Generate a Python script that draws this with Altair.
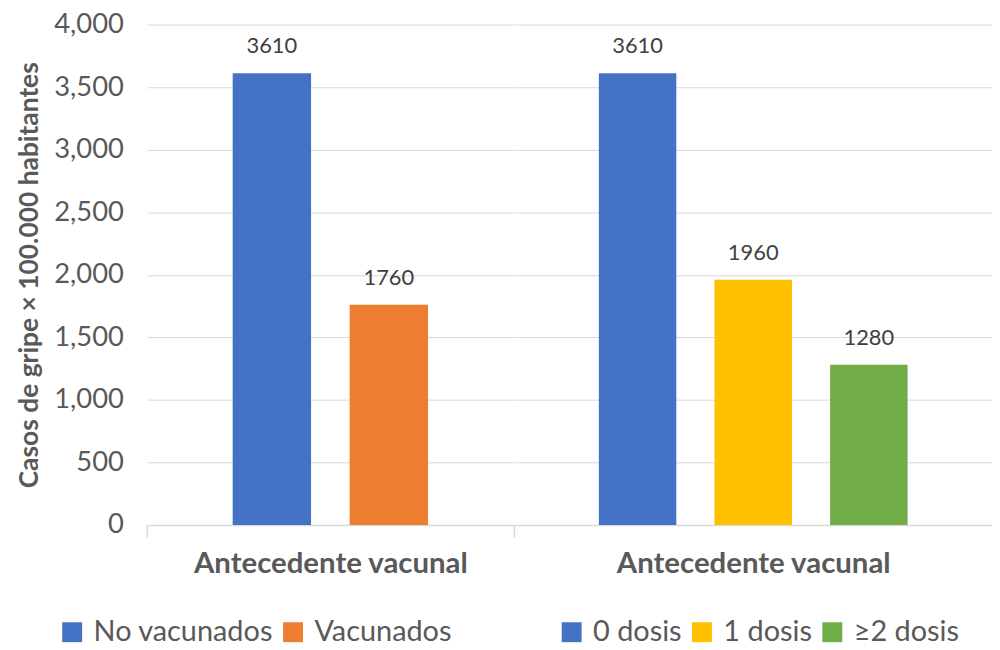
import altair as alt
import pandas as pd

# ---- data ----
g1_cats = ["No vacunados", "Vacunados"]
g1_vals = [3610, 1760]
g1_colors = ["#4472C4", "#ED7D31"]

g2_cats = ["0 dosis", "1 dosis", "≥2 dosis"]
g2_vals = [3610, 1960, 1280]
g2_colors = ["#4472C4", "#FFC000", "#70AD47"]

group_title = "Antecedente vacunal"
y_title = "Casos de gripe × 100.000 habitantes"
y_ticks = [0, 500, 1000, 1500, 2000, 2500, 3000, 3500, 4000]

FONT = "Lato"
GRAY = "#595959"
GRID = "#D9D9D9"
H = 503


def panel(cats, vals, colors, width, show_y, legend_x, tick_xs):
    df = pd.DataFrame({"cat": cats, "val": vals})
    x_enc = alt.X(
        "cat:N", sort=cats,
        scale=alt.Scale(paddingInner=0.33, paddingOuter=0.73),
        axis=alt.Axis(labels=False, ticks=False, domain=True, domainColor=GRID,
                      domainWidth=1.5, title=group_title, titleFont=FONT,
                      titleFontSize=29.5, titleFontWeight="bold", titleColor=GRAY,
                      titlePadding=25, grid=False),
    )
    if show_y:
        yaxis = alt.Axis(values=y_ticks, format=",d", labelFont=FONT, labelFontSize=27.5,
                         labelColor=GRAY, labelPadding=24, ticks=False, domain=False,
                         grid=True, gridColor=GRID, gridWidth=1, title=y_title,
                         titleFont=FONT, titleFontSize=26.5, titleFontWeight="bold",
                         titleColor=GRAY, titlePadding=10)
    else:
        yaxis = alt.Axis(values=y_ticks, labels=False, ticks=False, domain=False,
                         grid=True, gridColor=GRID, gridWidth=1, title=None)
    y_enc = alt.Y("val:Q", scale=alt.Scale(domain=[0, 4000]), axis=yaxis)
    color = alt.Color(
        "cat:N", sort=cats, scale=alt.Scale(domain=cats, range=colors),
        legend=alt.Legend(orient="none", legendX=legend_x, legendY=596,
                          direction="horizontal", title=None, labelFont=FONT,
                          labelFontSize=29, labelColor=GRAY, labelLimit=400,
                          symbolType="square", symbolSize=400, symbolStrokeWidth=0,
                          columnPadding=5, labelOffset=7),
    )
    base = alt.Chart(df)
    bars = base.mark_bar().encode(x=x_enc, y=y_enc, color=color)
    labels = base.mark_text(baseline="bottom", dy=-15, font=FONT, fontSize=22,
                            color="#404040").encode(
        x=alt.X("cat:N", sort=cats), y="val:Q", text=alt.Text("val:Q", format="d"))
    layers = [bars, labels]
    tdf = pd.DataFrame({"t": [0]})
    for tx in tick_xs:
        layers.append(alt.Chart(tdf).mark_rule(color=GRID, strokeWidth=1.5).encode(
            x=alt.value(tx), y=alt.value(H), y2=alt.value(H + 13)))
    return alt.layer(*layers).properties(width=width, height=H)


p1 = panel(g1_cats, g1_vals, g1_colors, 368, True, -90, [0])
p2 = panel(g2_cats, g2_vals, g2_colors, 480, False, 43, [0])

chart = alt.hconcat(p1, p2, spacing=0).resolve_scale(
    color="independent", x="independent"
).properties(
    padding={"top": 1, "left": 8, "right": 0, "bottom": 0}
).configure_view(stroke=None)

chart.save("out.html", embed_options={"renderer": "svg", "actions": False})
